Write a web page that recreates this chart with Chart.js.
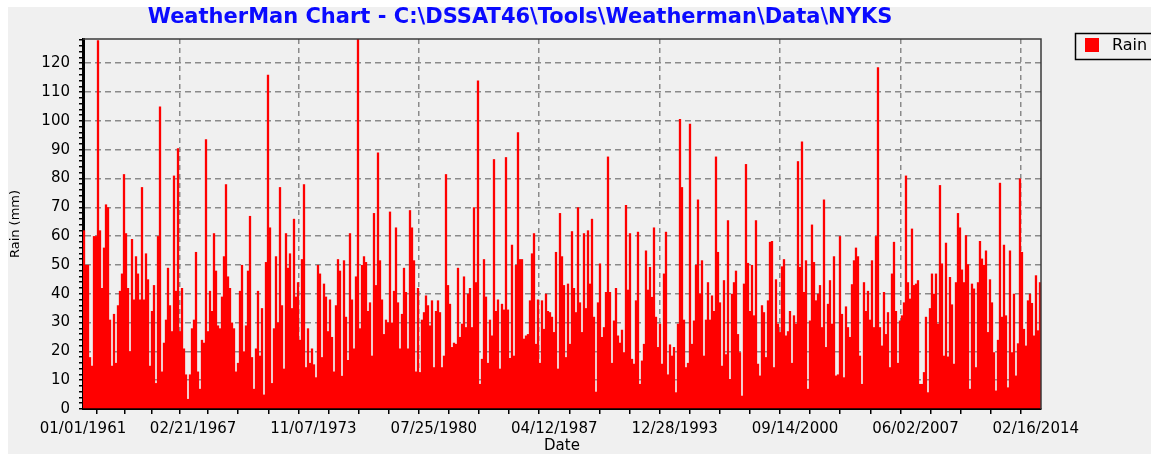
<!DOCTYPE html>
<html>
<head>
<meta charset="utf-8">
<title>WeatherMan Chart</title>
<script src="https://cdn.jsdelivr.net/npm/chart.js@4.4.0/dist/chart.umd.min.js"></script>
<style>
  html, body { margin: 0; padding: 0; background: #fff; overflow: hidden; }
  #panel { position: absolute; left: 8px; top: 7px; width: 1143px; height: 447px; background: #f0f0f0; }
  #wrap { position: absolute; left: 0; top: 0; width: 1151px; height: 454px; }
</style>
</head>
<body>
<div id="panel"></div>
<div id="wrap"><canvas id="rainChart" width="1151" height="454"></canvas></div>
<script>
// labels and axis
const chartTitle = 'WeatherMan Chart - C:\\DSSAT46\\Tools\\Weatherman\\Data\\NYKS';
const seriesName = 'Rain';
const xTitle = 'Date';
const yTitle = 'Rain (mm)';
// days counted from 01/01/1961
const tickDays = [0, 2242, 4693, 7145, 9597, 12049, 14501, 16953, 19404];
const tickLabels = ['01/01/1961', '02/21/1967', '11/07/1973', '07/25/1980', '04/12/1987',
                    '12/28/1993', '09/14/2000', '06/02/2007', '02/16/2014'];
const lastDay = 19510;
const yMax = 128.4;
// each value is the highest daily rain (mm) within a ~41 day stretch
const binDays = 40.73;

const rain1961 = [62, 50, 50, 18, 15, 60, 60, 128, 62, 42, 56, 71, 70, 31, 15, 33, 16, 36, 41, 47,
  81.5, 61, 42, 20, 59, 38, 53, 47, 38, 77, 38, 54, 45, 15, 34, 43, 9, 60, 105, 13,
  23, 31, 49, 36, 27, 81, 41, 90.5, 27, 42, 21, 12, 3.5, 12, 28, 31, 54.5, 13, 7];
const rain1967 = [24, 23, 93.6, 27, 41, 34, 61, 48, 29, 28, 39, 53, 78, 46, 42, 30, 28, 13, 16, 41,
  50, 20, 29, 48, 67, 18, 7, 21, 41, 18.5, 35, 5, 51, 116, 63, 9, 28, 53, 30, 77,
  36, 14, 61, 49, 54, 35, 66, 39, 44, 24, 52, 78, 14.5, 28, 16, 21, 15.5, 11, 50, 47];
const rain1973 = [18, 43.5, 39, 27, 38, 25, 13, 36, 52, 48, 11.5, 51.6, 32, 17, 61, 38, 21, 46, 129, 28,
  50, 53, 51, 34, 37, 18.5, 68, 43, 89, 51.6, 38, 26, 31, 30, 68.5, 30, 41, 63, 37, 21,
  33, 49, 40.6, 21, 69, 63, 51.6, 13, 42, 12.8, 31, 33.6, 39.4, 36, 29, 37.7, 14.5, 34, 37.7, 33.6];
const rain1980 = [14.5, 18.5, 81.5, 43, 36.5, 21.5, 23, 22.6, 49, 25, 29.6, 46, 28.4, 40, 42, 28.4, 70, 44, 114, 8.7,
  17.4, 52, 39, 16, 31, 25.5, 86.7, 34, 38, 14, 36.5, 34.5, 87.4, 34.5, 17.7, 57, 18.5, 50, 96, 52,
  52, 24.4, 25.5, 26, 37.7, 54, 61, 22.6, 38, 16, 37.7, 27.8, 40, 34, 33.6, 32, 26.7, 54.5, 14, 68, 53];
const rain1987 = [43, 18, 43.5, 22.6, 61.7, 42, 33.6, 70, 37, 26.7, 61, 35, 62, 43.5, 66, 32, 6, 37, 50.5, 25,
  28.4, 40.6, 87.6, 40.6, 16, 30.7, 42, 25.5, 23, 27.5, 19.7, 70.8, 41.4, 61, 17.4, 15.7, 37.7, 61.5, 8.7, 16.8,
  22.6, 55, 41.4, 49.3, 38.9, 63, 32, 21.5, 29.6, 15.7, 47, 61.5, 12, 22.4, 18.5, 21.5, 5.8, 29.6, 100.6, 77];
const rain1994 = [31, 14.5, 16, 99, 22.6, 30.7, 50, 72.7, 40, 51.6, 18.5, 31, 44, 31, 39.4, 34, 87.6, 54.5, 37, 15,
  44.7, 19, 65.5, 10.4, 40, 44, 48, 26, 19.7, 4.6, 43.5, 85, 50.7, 34, 50, 32.5, 65.5, 15.7, 11.6, 36,
  33.6, 18, 37.7, 58, 58.3, 14.5, 45, 29.6, 26.7, 49.5, 52, 25.5, 27, 34, 16, 32.5, 29.6, 86, 49.3, 92.8];
const rain2000 = [40.6, 51.6, 7, 30.7, 64, 51, 37.7, 40, 43, 28.4, 72.7, 21.5, 36.5, 44.7, 29.6, 53, 11.6, 12, 60, 33,
  11, 35.6, 28.4, 25, 43.3, 51.6, 56, 53, 18.5, 8.7, 44, 34, 41, 31, 51.6, 28.4, 60, 118.6, 28.4, 22,
  40.6, 26, 33.6, 14.5, 47, 58, 34, 16, 30.7, 32.5, 37, 81, 44, 38.3, 62.6, 43, 43.5, 44.7, 8.7];
const rain2007 = [8.7, 12.8, 32, 5.8, 35, 47, 40, 47, 29.6, 77.7, 50.5, 18.5, 57.7, 18.2, 45.8, 36.3, 15.7, 44, 68, 63,
  48.4, 44, 60.3, 50.2, 7, 43.5, 41.8, 14.5, 44, 58.3, 52.2, 50, 55, 26.7, 45, 37, 19.7, 6.4, 24, 78.5,
  32, 57, 32.5, 7.5, 55, 19.7, 40, 11.6, 22.8, 80, 54.5, 27.8, 22, 37.7, 40, 36.8, 25.5, 46.4, 27.3, 44];

const rainValues = [].concat(rain1961, rain1967, rain1973, rain1980, rain1987, rain1994, rain2000, rain2007);
const rainPoints = rainValues.map((v, i) => ({ x: (i + 0.5) * binDays, y: v }));

const gridGray = '#8a8a8a';
const axisFont = { family: 'DejaVu Sans', size: 15 };

// x ticks: labelled dates plus three small ticks between them
const xTicks = [];
tickDays.forEach((d, i) => {
  if (i > 0) {
    const gap = (tickDays[i] - tickDays[i - 1]) / 4;
    for (let k = 1; k < 4; k++) xTicks.push({ value: tickDays[i - 1] + gap * k, major: false });
  }
  xTicks.push({ value: d, major: true });
});

const yTicks = [];
for (let v = 0; v <= 128; v += 2) yTicks.push({ value: v });

const titlePlugin = {
  id: 'wmTitle',
  afterDraw(chart) {
    const ctx = chart.ctx;
    ctx.save();
    ctx.font = 'bold 21px "DejaVu Sans"';
    ctx.fillStyle = '#0a0aff';
    ctx.textAlign = 'center';
    ctx.textBaseline = 'middle';
    ctx.fillText(chartTitle, 520, 18);
    ctx.restore();
  }
};

const framePlugin = {
  id: 'frame',
  afterDraw(chart) {
    const a = chart.chartArea, ctx = chart.ctx;
    ctx.save();
    ctx.strokeStyle = '#3a3a3a';
    ctx.lineWidth = 1.5;
    ctx.beginPath();
    ctx.moveTo(a.left, a.top);
    ctx.lineTo(a.right, a.top);
    ctx.lineTo(a.right, a.bottom);
    ctx.stroke();
    ctx.restore();
  }
};

const legendPlugin = {
  id: 'legendBox',
  afterDraw(chart) {
    const ctx = chart.ctx, ds = chart.data.datasets[0];
    ctx.save();
    ctx.strokeStyle = '#000';
    ctx.lineWidth = 1.5;
    ctx.strokeRect(1075.5, 33.5, 110, 26);
    ctx.fillStyle = ds.backgroundColor;
    ctx.fillRect(1085, 38, 14, 14);
    ctx.fillStyle = '#000';
    ctx.font = '16px "DejaVu Sans"';
    ctx.textBaseline = 'middle';
    ctx.fillText(ds.label, 1112, 46);
    ctx.restore();
  }
};

const ctx = document.getElementById('rainChart').getContext('2d');
const rainChart = new Chart(ctx, {
  type: 'bar',
  data: {
    datasets: [{
      label: seriesName,
      data: rainPoints,
      backgroundColor: '#ff0000',
      borderWidth: 0,
      barPercentage: 1.15,
      categoryPercentage: 1,
      grouped: false
    }]
  },
  options: {
    responsive: false,
    animation: false,
    layout: { padding: { top: 39, right: 110, left: 0, bottom: 0 } },
    plugins: {
      legend: { display: false },
      title: { display: false },
      tooltip: { enabled: false }
    },
    scales: {
      x: {
        type: 'linear',
        min: 0,
        max: lastDay,
        offset: false,
        afterBuildTicks: s => { s.ticks = xTicks.map(t => ({ ...t })); },
        afterFit: s => { s.height = 45; },
        grid: {
          color: c => (c.tick && c.tick.major) ? gridGray : 'rgba(0,0,0,0)',
          lineWidth: 1.5,
          tickColor: '#000',
          tickLength: 5
        },
        border: { color: '#000', width: 2, dash: [5, 4] },
        ticks: {
          autoSkip: false,
          maxRotation: 0,
          padding: 6,
          color: '#000',
          font: axisFont,
          callback: v => {
            const i = tickDays.indexOf(v);
            return i >= 0 ? tickLabels[i] : '';
          }
        },
        title: { display: true, text: xTitle, color: '#000', font: { family: 'DejaVu Sans', size: 15, lineHeight: 1 }, padding: { top: 0, bottom: 0 } }
      },
      y: {
        min: 0,
        max: yMax,
        afterBuildTicks: s => { s.ticks = yTicks.map(t => ({ ...t })); },
        afterFit: s => { s.width = 83; },
        grid: {
          color: c => (c.tick && c.tick.value > 0 && c.tick.value % 10 === 0) ? gridGray : 'rgba(0,0,0,0)',
          lineWidth: 1.5,
          tickColor: '#000',
          tickLength: 4
        },
        border: { color: '#000', width: 3, dash: [6, 4] },
        ticks: {
          autoSkip: false,
          padding: 9,
          color: '#000',
          font: axisFont,
          callback: v => (v % 10 === 0 ? v : '')
        },
        title: { display: true, text: yTitle, color: '#000', font: { family: 'DejaVu Sans', size: 13, lineHeight: 1 }, padding: { top: 9, bottom: 0 } }
      }
    }
  },
  plugins: [titlePlugin, framePlugin, legendPlugin]
});
</script>
</body>
</html>
